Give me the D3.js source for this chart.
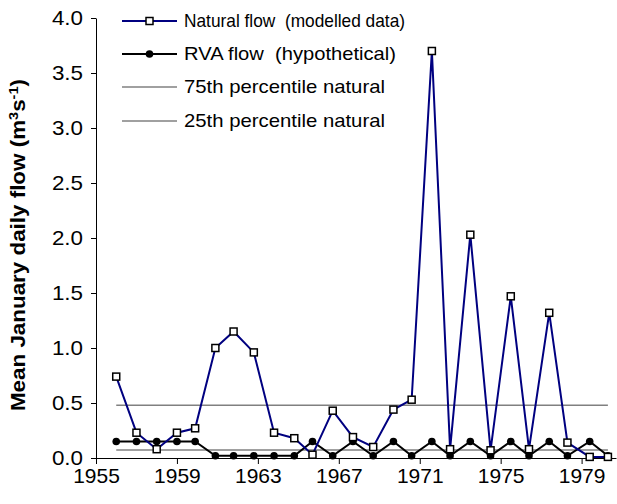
<!DOCTYPE html>
<html><head><meta charset="utf-8">
<script src="https://cdn.jsdelivr.net/npm/d3@7"></script>
<style>body{margin:0;background:#fff}svg text{font-family:"Liberation Sans",Arial,sans-serif}</style>
</head><body><svg id="c" width="617" height="504"></svg>
<script>
const years = [1956.0,1957.0,1958.0,1959.0,1959.9,1960.9,1961.8,1962.8,1963.8,1964.8,1965.7,1966.7,1967.7,1968.7,1969.7,1970.6,1971.6,1972.5,1973.5,1974.5,1975.5,1976.4,1977.4,1978.3,1979.4,1980.3];
const naturalFlow = [0.74,0.23,0.08,0.23,0.27,1.00,1.15,0.96,0.23,0.18,0.03,0.43,0.19,0.10,0.44,0.53,3.70,0.08,2.03,0.07,1.47,0.08,1.32,0.14,0.01,0.01];
const rvaFlow = [0.15,0.15,0.15,0.15,0.15,0.02,0.02,0.02,0.02,0.02,0.15,0.02,0.15,0.02,0.15,0.02,0.15,0.02,0.15,0.02,0.15,0.02,0.15,0.02,0.15,0.02];
const p75 = 0.48, p25 = 0.073;
const xTicks = [1955,1959,1963,1967,1971,1975,1979];
const yTicks = [0,0.5,1,1.5,2,2.5,3,3.5,4];
const legendLabels = ["Natural flow  (modelled data)","RVA flow  (hypothetical)","75th percentile natural","25th percentile natural"];

const svg = d3.select("#c");
const x = d3.scaleLinear().domain([1955,1980.7]).range([96,616]);
const y = d3.scaleLinear().domain([0,4]).range([458,18]);

// y axis
const ya = svg.append("g").attr("transform","translate(96,0)")
  .call(d3.axisLeft(y).tickValues(yTicks).tickFormat(d3.format(".1f")).tickSize(5).tickSizeOuter(0));
ya.select(".domain").attr("stroke","#000");
ya.selectAll(".tick text").attr("font-size",20).attr("fill","#000").attr("x",0)
  .attr("transform","translate(-13,0) scale(1.12,1)");
// x axis
const xa = svg.append("g").attr("transform","translate(0,458)")
  .call(d3.axisBottom(x).tickValues(xTicks).tickFormat(d3.format("d")).tickSize(6).tickSizeOuter(0));
xa.select(".domain").attr("stroke","#000");
xa.selectAll(".tick text").attr("font-size",20).attr("fill","#000").attr("y",0).attr("dy","1.25em")
  .attr("transform","scale(1.05,1)");

// percentile lines
const pl = [p75,p25];
svg.append("g").selectAll("line").data(pl).join("line")
  .attr("x1",x(years[0])).attr("x2",x(years[years.length-1]))
  .attr("y1",d=>y(d)).attr("y2",d=>y(d))
  .attr("stroke","#808080").attr("stroke-width",1.5);

const line = d3.line().x((d,i)=>x(years[i])).y(d=>y(d));
svg.append("path").datum(rvaFlow).attr("d",line).attr("fill","none").attr("stroke","#000").attr("stroke-width",2);
svg.append("g").selectAll("circle").data(rvaFlow).join("circle")
  .attr("cx",(d,i)=>x(years[i])).attr("cy",d=>y(d)).attr("r",3.8).attr("fill","#000");
svg.append("path").datum(naturalFlow).attr("d",line).attr("fill","none").attr("stroke","#000080").attr("stroke-width",2);
svg.append("g").selectAll("rect").data(naturalFlow).join("rect")
  .attr("x",(d,i)=>x(years[i])-3.5).attr("y",d=>y(d)-3.5).attr("width",7).attr("height",7)
  .attr("fill","#fff").attr("stroke","#000").attr("stroke-width",1.5);

// legend
const lg = svg.append("g");
const ly = [21,54,87,121];
const lwid = [221,212,201,201];
const lcol = ["#000080","#000","#808080","#808080"];
const lw = [2,2,1.5,1.5];
legendLabels.forEach((t,i)=>{
  lg.append("line").attr("x1",122).attr("x2",177).attr("y1",ly[i]).attr("y2",ly[i]).attr("stroke",lcol[i]).attr("stroke-width",lw[i]);
  if(i===0) lg.append("rect").attr("x",146).attr("y",ly[i]-3.5).attr("width",7).attr("height",7).attr("fill","#fff").attr("stroke","#000").attr("stroke-width",1.5);
  if(i===1) lg.append("circle").attr("cx",149.5).attr("cy",ly[i]).attr("r",3.8).attr("fill","#000");
  lg.append("text").attr("x",184).attr("y",ly[i]).attr("dy","0.35em")
    .attr("font-size",18.5).attr("xml:space","preserve").style("white-space","pre")
    .attr("textLength",lwid[i]).attr("lengthAdjust","spacingAndGlyphs").text(t);
});

// y title
const yt = svg.append("text").attr("transform","translate(25,245) rotate(-90) scale(1.12,1)")
  .attr("text-anchor","middle").attr("font-size",20).attr("font-weight","bold");
yt.append("tspan").text("Mean January daily flow (m");
yt.append("tspan").attr("font-size",13).attr("dy",-7).text("3");
yt.append("tspan").attr("dy",7).text("s");
yt.append("tspan").attr("font-size",13).attr("dy",-7).text("-1");
yt.append("tspan").attr("dy",7).text(")");
</script></body></html>
